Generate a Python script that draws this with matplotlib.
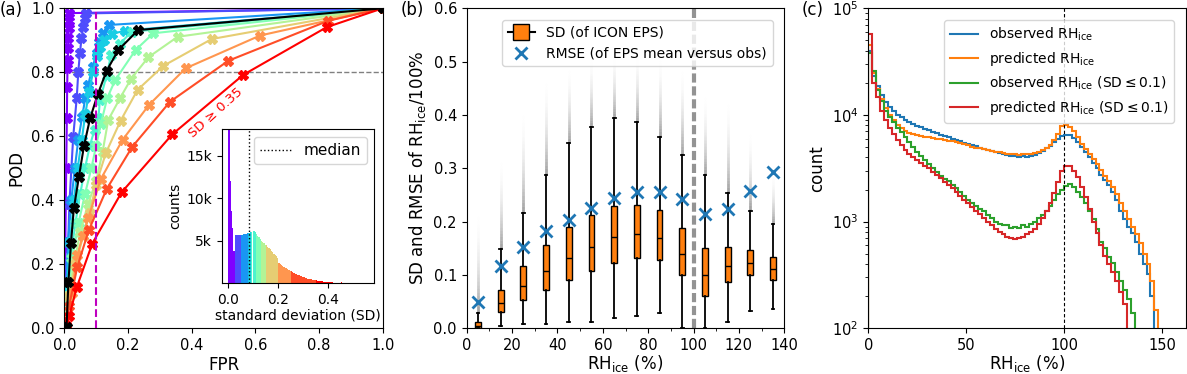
import numpy as np
import matplotlib
matplotlib.use("Agg")
import matplotlib.pyplot as plt
from matplotlib.lines import Line2D
from matplotlib import cm

# ---------------- Panel (a): ROC curves per SD group ----------------
roc_fpr = [
    [0, 0.003, 0.006, 0.008, 0.009, 0.010, 0.011, 0.012, 0.013, 0.014, 0.015, 0.016, 1],
    [0, 0.005, 0.010, 0.016, 0.028, 0.039, 0.044, 0.049, 0.054, 0.060, 0.065, 0.068, 1],
    [0, 0.005, 0.012, 0.022, 0.033, 0.044, 0.056, 0.066, 0.075, 0.089, 0.102, 0.110, 0.123, 0.141, 1],
    [0, 0.008, 0.018, 0.030, 0.042, 0.055, 0.066, 0.078, 0.090, 0.102, 0.112, 0.125, 0.150, 0.190, 1],
    [0, 0.008, 0.020, 0.035, 0.050, 0.065, 0.080, 0.095, 0.107, 0.112, 0.133, 0.147, 0.175, 0.212, 1],
    [0, 0.010, 0.025, 0.045, 0.065, 0.085, 0.100, 0.115, 0.135, 0.160, 0.224, 0.280, 1],
    [0, 0.012, 0.030, 0.050, 0.075, 0.100, 0.120, 0.138, 0.175, 0.210, 0.264, 0.356, 1],
    [0, 0.015, 0.035, 0.060, 0.080, 0.099, 0.131, 0.177, 0.230, 0.311, 0.463, 1],
    [0, 0.023, 0.041, 0.058, 0.075, 0.115, 0.183, 0.266, 0.381, 0.615, 1],
    [0, 0.015, 0.041, 0.077, 0.133, 0.214, 0.332, 0.515, 0.829, 1],
    [0, 0.005, 0.016, 0.039, 0.088, 0.180, 0.339, 0.562, 0.824, 1],
]
roc_pod = [
    [0, 0.25, 0.50, 0.656, 0.753, 0.812, 0.84, 0.875, 0.906, 0.937, 0.96, 0.985, 1],
    [0, 0.10, 0.20, 0.39, 0.599, 0.719, 0.802, 0.859, 0.906, 0.943, 0.969, 0.984, 1],
    [0, 0.12, 0.27, 0.40, 0.50, 0.59, 0.66, 0.72, 0.76, 0.818, 0.859, 0.894, 0.922, 0.948, 1],
    [0, 0.12, 0.27, 0.40, 0.50, 0.59, 0.67, 0.74, 0.80, 0.85, 0.88, 0.90, 0.92, 0.93, 1],
    [0, 0.10, 0.22, 0.33, 0.42, 0.50, 0.57, 0.62, 0.657, 0.713, 0.79, 0.854, 0.89, 0.927, 1],
    [0, 0.10, 0.22, 0.33, 0.42, 0.50, 0.57, 0.64, 0.72, 0.776, 0.87, 0.922, 1],
    [0, 0.10, 0.20, 0.30, 0.39, 0.46, 0.55, 0.651, 0.719, 0.78, 0.847, 0.911, 1],
    [0, 0.10, 0.20, 0.29, 0.36, 0.448, 0.549, 0.649, 0.745, 0.82, 0.904, 1],
    [0, 0.109, 0.229, 0.29, 0.344, 0.467, 0.589, 0.698, 0.8125, 0.915, 1],
    [0, 0.07, 0.193, 0.307, 0.435, 0.568, 0.708, 0.836, 0.961, 1],
    [0, 0.01, 0.04, 0.128, 0.265, 0.425, 0.606, 0.792, 0.941, 1],
]
all_fpr = [0, 0.007, 0.013, 0.021, 0.030, 0.046, 0.062, 0.081, 0.105, 0.133, 0.170, 0.232, 1]
all_pod = [0, 0.005, 0.146, 0.266, 0.375, 0.474, 0.571, 0.656, 0.731, 0.805, 0.870, 0.932, 1]

# inset histogram of SD
sd_bin_width = 0.005
sd_counts = [30000, 12000, 8500, 6500, 3800,
             5650, 5650, 5660, 5650, 5660,
             5700, 5720, 5750, 5800, 5850, 5900,
             5950, 6000, 6050, 0,
             6150, 6000, 5800, 5600, 5400, 5200,
             5000, 4850, 4700, 4550,
             4450, 4300, 4150, 4000, 3850, 3700, 3500, 3300, 3150, 2950,
             2350, 2250, 2150, 2050, 1950, 1850, 1750, 1650, 1550, 1480,
             1400, 1300, 1220, 1140, 1060, 990, 920, 860, 800, 750,
             700, 650, 600, 560, 520, 480, 450, 420, 390, 360,
             330, 300, 280, 260, 240, 220, 200, 185, 170, 155,
             140, 125, 110, 100, 90, 80, 70, 60, 50, 45, 120, 30]
sd_group_edges = [0, 0.025, 0.05, 0.08, 0.09, 0.11, 0.13, 0.15, 0.2, 0.25, 0.35, 1.0]
sd_median = 0.084

# ---------------- Panel (b): box statistics ----------------
rh_bins = [5, 15, 25, 35, 45, 55, 65, 75, 85, 95, 105, 115, 125, 135]
sd_q1 = [0.0, 0.031, 0.054, 0.072, 0.091, 0.1075, 0.122, 0.131, 0.128, 0.100, 0.061, 0.086, 0.100, 0.091]
sd_med = [0.005, 0.048, 0.079, 0.1075, 0.131, 0.153, 0.171, 0.176, 0.169, 0.139, 0.100, 0.117, 0.122, 0.111]
sd_q3 = [0.0125, 0.071, 0.1175, 0.156, 0.190, 0.2125, 0.230, 0.232, 0.221, 0.189, 0.150, 0.152, 0.147, 0.133]
sd_wlo = [0.0, 0.004, 0.008, 0.009, 0.011, 0.0125, 0.019, 0.023, 0.028, 0.0, 0.0, 0.0125, 0.033, 0.036]
sd_whi = [0.028, 0.148, 0.216, 0.2875, 0.347, 0.377, 0.394, 0.386, 0.359, 0.325, 0.2875, 0.253, 0.220, 0.196]
sd_flier_max = [0.23, 0.33, 0.42, 0.48, 0.50, 0.52, 0.53, 0.53, 0.52, 0.50, 0.45, 0.44, 0.38, 0.30]
rmse = [0.050, 0.1175, 0.152, 0.1825, 0.203, 0.226, 0.244, 0.255, 0.256, 0.242, 0.214, 0.223, 0.2575, 0.294]

# ---------------- Panel (c): RH_ice histograms ----------------
rh_hist_width = 2
obs_all = [40000, 23000, 18500, 15500, 13300, 12000, 10900, 10100, 9500, 8900,
           8500, 8150, 7900, 7650, 7400, 7200, 6950, 6750, 6550, 6350,
           6200, 6000, 5800, 5650, 5500, 5350, 5250, 5100, 4950, 4800,
           4700, 4600, 4500, 4400, 4300, 4250, 4150, 4100, 4000, 4150,
           4050, 4150, 4250, 4400, 4600, 4850, 5150, 5550, 6000, 6400,
           6550, 6450, 6100, 5600, 5000, 4500, 4000, 3550, 3150, 2750,
           2450, 2200, 1900, 1600, 1250, 1050, 900, 780, 640, 500,
           400, 320, 200, 50, 20]
pred_all = [45000, 25000, 17700, 14000, 11600, 10000, 8900, 8100, 7500, 7100,
            6800, 6600, 6450, 6350, 6250, 6150, 6050, 5980, 5900, 5820,
            5750, 5650, 5550, 5450, 5300, 5200, 5050, 4950, 4850, 4750,
            4650, 4550, 4500, 4450, 4400, 4350, 4300, 4300, 4250, 4300,
            4300, 4350, 4400, 4500, 4650, 4900, 5250, 5800, 6600, 7900,
            8100, 7700, 7000, 6200, 5400, 4800, 4300, 3850, 3450, 3050,
            2700, 2400, 2100, 1800, 1500, 1250, 1050, 900, 760, 630,
            500, 400, 280, 150, 30]
obs_lowsd = [38000, 26000, 17000, 13500, 11000, 9600, 8500, 7600, 6900, 6200,
             5600, 5000, 4500, 4150, 3800, 3500, 3200, 2950, 2700, 2500,
             2400, 2200, 2050, 1900, 1750, 1600, 1500, 1400, 1300, 1250,
             1150, 1080, 1000, 950, 930, 920, 880, 900, 880, 930,
             900, 950, 1000, 1080, 1150, 1250, 1400, 1600, 1800, 2000,
             2150, 2250, 2100, 1900, 1700, 1500, 1250, 1050, 850, 650,
             560, 470, 410, 340, 280, 230, 190, 140, 40, 20,
             10, 10, 10, 10, 10]
pred_lowsd = [58000, 20000, 14800, 11000, 9000, 7600, 6600, 5800, 5200, 4700,
              4300, 4000, 3750, 3550, 3350, 3150, 2950, 2750, 2550, 2350,
              2200, 2050, 1900, 1750, 1600, 1480, 1370, 1270, 1180, 1080,
              1000, 920, 860, 800, 760, 720, 700, 690, 700, 720,
              760, 800, 860, 950, 1080, 1250, 1500, 1850, 2350, 3000,
              3350, 3300, 3000, 2600, 2100, 1700, 1300, 1000, 780, 600,
              480, 400, 340, 280, 220, 170, 60, 20, 20, 20,
              20, 20, 20, 20, 20]

# ---------------- Figure ----------------
plt.rcParams.update({"font.size": 10.5, "axes.labelsize": 12,
                     "xtick.labelsize": 10.5, "ytick.labelsize": 10.5,
                     "axes.labelpad": 2.0})
fig = plt.figure(figsize=(11.87, 3.74), dpi=100)
W, H = 1187, 374
def rect(l, t, r, b):
    return [l / W, 1 - b / H, (r - l) / W, (b - t) / H]

axA = fig.add_axes(rect(64.3, 8.3, 382.7, 328.3))
axB = fig.add_axes(rect(466.7, 8.3, 784.3, 328.3))
axC = fig.add_axes(rect(868.3, 8.3, 1185.7, 328.3))
axI = fig.add_axes(rect(221.7, 129.3, 374.3, 283.3))

ncur = len(roc_fpr)
colors = cm.rainbow(np.linspace(0, 1, ncur))

# (a)
axA.axhline(0.8, color="grey", ls="--", lw=1, zorder=1)
for i in range(ncur):
    axA.plot(roc_fpr[i], roc_pod[i], "-X", color=colors[i], lw=1.5, ms=7, zorder=2)
axA.plot(all_fpr, all_pod, "-X", color="k", lw=1.5, ms=7, zorder=3)
axA.plot([0.1, 0.1], [0, 0.99], color="m", ls="--", lw=1.5, zorder=4)
axA.set_xlim(0, 1)
axA.set_ylim(0, 1)
axA.set_xticks(np.arange(0, 1.01, 0.2))
axA.set_yticks(np.arange(0, 1.01, 0.2))
axA.set_xlabel("FPR")
axA.set_ylabel("POD", labelpad=4)
axA.text(0.475, 0.672, "SD ≥ 0.35", color="red", rotation=42, fontsize=9.5,
         ha="center", va="center")

# inset
edges = np.arange(len(sd_counts)) * sd_bin_width
centers = edges + sd_bin_width / 2
grp = np.searchsorted(sd_group_edges, centers, side="right") - 1
axI.bar(edges, sd_counts, width=sd_bin_width, align="edge",
        color=[colors[g] for g in grp], linewidth=0)
axI.axvline(sd_median, color="k", ls=":", lw=1, label="median")
axI.set_xlim(-0.0264, 0.584)
axI.set_ylim(0, 18100)
axI.set_xticks([0, 0.2, 0.4])
axI.set_xticklabels(["0.0", "0.2", "0.4"], fontsize=10)
axI.set_yticks([5000, 10000, 15000])
axI.set_yticklabels(["5k", "10k", "15k"], fontsize=10)
axI.set_xlabel("standard deviation (SD)", fontsize=10, labelpad=1)
axI.set_ylabel("counts", fontsize=10, labelpad=3)
axI.legend(loc="upper right", fontsize=11)

# (b)
stats = []
for i in range(len(rh_bins)):
    stats.append(dict(med=sd_med[i], q1=sd_q1[i], q3=sd_q3[i],
                      whislo=sd_wlo[i], whishi=sd_whi[i], fliers=[]))
for i, x in enumerate(rh_bins):
    lo, hi = sd_whi[i], sd_flier_max[i]
    n = 30
    ys = np.linspace(lo, hi, n + 1)
    for k in range(n):
        a = 0.38 * (1 - k / n) ** 2.4
        axB.plot([x, x], [ys[k], ys[k + 1]], color="k", alpha=a, lw=2.0,
                 solid_capstyle="butt", zorder=1)
axB.bxp(stats, positions=rh_bins, widths=2.6, patch_artist=True, showfliers=False,
        boxprops=dict(facecolor="C1", edgecolor="k", lw=1),
        medianprops=dict(color="k", lw=1),
        whiskerprops=dict(color="k", lw=1.3),
        capprops=dict(color="k", lw=1.3), capwidths=1.2,
        manage_ticks=False)
axB.plot(rh_bins, rmse, "x", color="C0", ms=8, mew=2, zorder=5)
axB.axvline(100, color="grey", lw=3, ls=(0, (2.2, 0.9)), alpha=0.85, zorder=0)
axB.set_xlim(0, 140)
axB.set_ylim(0, 0.6)
axB.set_xticks(np.arange(0, 141, 20))
axB.set_xticks(np.arange(10, 141, 20), minor=True)
axB.set_yticks(np.arange(0, 0.61, 0.1))
axB.set_xlabel(r"RH$_\mathrm{ice}$ (%)", labelpad=0)
axB.set_ylabel(r"SD and RMSE of RH$_\mathrm{ice}$/100%", labelpad=4)
hB = [Line2D([], [], color="k", marker="s", ms=12, mfc="C1", mec="k", lw=1.5),
      Line2D([], [], color="C0", marker="x", ms=8, mew=2, ls="none")]
axB.legend(hB, ["SD (of ICON EPS)", "RMSE (of EPS mean versus obs)"],
           loc="upper right", fontsize=10, bbox_to_anchor=(0.985, 0.985))

# (c)
hedges = np.arange(len(obs_all) + 1) * rh_hist_width
for vals, col, lab in [(obs_all, "C0", r"observed RH$_\mathrm{ice}$"),
                       (pred_all, "C1", r"predicted RH$_\mathrm{ice}$"),
                       (obs_lowsd, "C2", r"observed RH$_\mathrm{ice}$ (SD$\leq$0.1)"),
                       (pred_lowsd, "C3", r"predicted RH$_\mathrm{ice}$ (SD$\leq$0.1)")]:
    axC.stairs(vals, hedges, color=col, lw=1.5, label=lab)
axC.axvline(100, color="k", ls="--", lw=0.8, dashes=(3, 2))
axC.set_yscale("log")
axC.set_ylim(100, 1e5)
axC.set_xlim(0, 162)
axC.set_xticks([0, 50, 100, 150])
axC.set_xlabel(r"RH$_\mathrm{ice}$ (%)", labelpad=0)
axC.set_ylabel("count", labelpad=4)
axC.legend(loc="upper right", fontsize=10, labelspacing=0.5, bbox_to_anchor=(0.985, 0.985))

for lab, x in [("(a)", 0), ("(b)", 401), ("(c)", 802)]:
    fig.text(x / W, 1 - 10 / H, lab, fontsize=12, ha="left", va="center")

fig.savefig("out.png", dpi=100)
